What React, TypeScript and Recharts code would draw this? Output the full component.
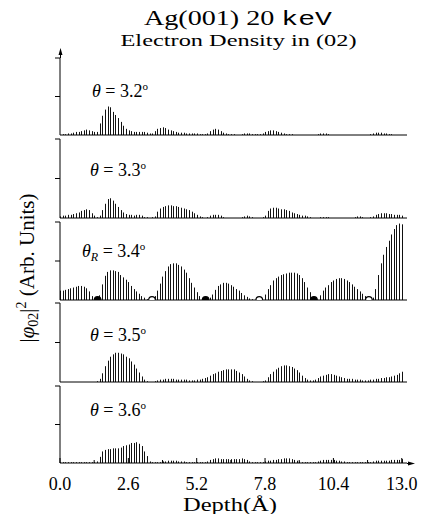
import React from 'react'
import { ComposedChart, Bar, Scatter, XAxis, YAxis } from 'recharts'

// |phi_02|^2 sampled every 0.1 Å from 0.0 to 13.0, in % of the panel height
const rho32 = [
  0, 1, 1, 2, 2, 3, 4, 4, 5, 6,
  7, 6, 5, 4, 4, 15, 25, 33, 37, 36,
  30, 26, 22, 17, 12, 8, 6, 5, 4, 4,
  4, 4, 4, 3, 2, 2, 5, 8, 9, 10,
  9, 7, 6, 5, 4, 3, 3, 3, 2, 2,
  2, 2, 2, 1, 1, 1, 2, 5, 7, 8,
  7, 5, 3, 2, 1, 1, 1, 0, 0, 1,
  2, 2, 2, 1, 1, 1, 1, 2, 4, 5,
  6, 6, 5, 4, 3, 2, 1, 1, 1, 0,
  0, 0, 0, 0, 0, 0, 0, 0, 1, 2,
  2, 2, 1, 0, 0, 0, 0, 0, 0, 0,
  0, 0, 0, 0, 0, 0, 0, 0, 1, 2,
  3, 3, 3, 2, 2, 1, 1, 0, 0, 0,
  0,
]

const rho33 = [
  2, 3, 3, 4, 4, 5, 6, 7, 9, 10,
  11, 10, 6, 3, 1, 3, 10, 18, 24, 25,
  22, 18, 14, 10, 7, 5, 4, 4, 3, 4,
  4, 3, 1, 1, 0, 1, 2, 8, 12, 14,
  15, 16, 16, 15, 15, 14, 13, 12, 11, 10,
  8, 6, 4, 2, 1, 0, 1, 3, 4, 4,
  4, 3, 1, 0, 0, 0, 0, 0, 0, 1,
  2, 3, 2, 1, 0, 0, 0, 1, 3, 9,
  12, 13, 13, 12, 11, 11, 10, 9, 7, 6,
  5, 4, 3, 3, 2, 1, 0, 0, 0, 1,
  1, 1, 1, 0, 0, 0, 0, 0, 0, 0,
  0, 0, 1, 2, 2, 1, 0, 0, 1, 2,
  4, 5, 6, 6, 6, 5, 5, 4, 4, 4,
  3,
]

const rho34 = [
  12, 12, 13, 14, 15, 16, 17, 18, 18, 17,
  15, 11, 5, 1, 0, 6, 20, 31, 36, 38,
  38, 37, 36, 32, 29, 26, 23, 18, 14, 11,
  8, 5, 3, 1, 0, 0, 5, 12, 21, 30,
  37, 43, 46, 47, 47, 45, 43, 39, 35, 28,
  22, 16, 10, 5, 1, 0, 0, 3, 7, 13,
  18, 20, 22, 22, 21, 19, 17, 14, 12, 9,
  6, 4, 2, 1, 0, 0, 0, 2, 7, 14,
  19, 25, 28, 30, 32, 33, 34, 35, 35, 35,
  34, 32, 28, 23, 16, 10, 3, 0, 0, 6,
  12, 16, 19, 23, 25, 27, 28, 28, 27, 25,
  23, 20, 17, 14, 11, 8, 5, 2, 0, 3,
  14, 32, 47, 58, 68, 76, 84, 91, 96, 98,
  97,
]

const rho35 = [
  0, 0, 0, 0, 0, 0, 0, 0, 0, 0,
  0, 0, 0, 0, 1, 4, 11, 20, 27, 32,
  35, 37, 37, 36, 35, 32, 30, 26, 22, 17,
  12, 7, 3, 1, 0, 0, 1, 2, 3, 3,
  4, 4, 4, 4, 3, 3, 3, 3, 3, 2,
  2, 2, 3, 3, 4, 5, 6, 8, 10, 11,
  13, 14, 15, 16, 16, 16, 16, 14, 12, 10,
  7, 4, 2, 1, 0, 0, 0, 1, 2, 6,
  10, 13, 16, 18, 20, 21, 21, 20, 19, 17,
  15, 12, 8, 5, 3, 2, 2, 3, 5, 7,
  8, 9, 10, 10, 9, 8, 7, 6, 5, 4,
  4, 4, 3, 3, 3, 2, 2, 2, 3, 3,
  4, 4, 5, 5, 6, 6, 7, 8, 9, 11,
  13,
]

const rho36 = [
  1, 1, 1, 1, 1, 1, 1, 1, 1, 1,
  1, 1, 1, 1, 2, 8, 15, 17, 18, 18,
  19, 19, 19, 20, 22, 23, 24, 26, 26, 27,
  25, 22, 15, 9, 2, 1, 1, 1, 1, 2,
  2, 3, 3, 3, 3, 2, 2, 2, 1, 1,
  1, 1, 1, 1, 1, 1, 2, 4, 5, 6,
  6, 5, 5, 5, 5, 5, 5, 5, 5, 6,
  5, 4, 2, 1, 1, 1, 1, 1, 2, 3,
  3, 4, 4, 5, 5, 6, 6, 6, 5, 4,
  3, 2, 1, 1, 1, 1, 1, 1, 2, 3,
  4, 4, 4, 4, 4, 3, 3, 2, 2, 1,
  1, 1, 1, 1, 1, 1, 1, 1, 1, 2,
  3, 3, 3, 3, 3, 3, 4, 4, 4, 4,
  5,
]

// atomic planes marked on the resonance panel
const filledSites = [1.43, 5.54, 9.66]
const openSites = [3.5, 7.58, 11.75]

const depthTicks = [0, 1.3, 2.6, 3.9, 5.2, 6.5, 7.8, 9.1, 10.4, 11.7, 13.0]
const majorTicks = [0, 2.6, 5.2, 7.8, 10.4, 13.0]

const SERIF = "'Liberation Serif', 'Times New Roman', serif"

const toRows = (vals: number[]) => vals.map((v, i) => ({ d: i / 10, v }))

const Stick = (p: any) => {
  if (!p.height || p.height <= 0) return null
  const x = Math.round(p.x + p.width / 2) + 0.5
  return <line x1={x} x2={x} y1={p.y} y2={p.y + p.height} stroke="#111" strokeWidth={1} />
}

const Site = ({ cx, cy, open }: any) => (
  <circle cx={cx} cy={cy} r={3.3} fill={open ? '#fff' : '#000'} stroke="#000" strokeWidth={1.2} />
)

const DepthTick = ({ x, y, payload }: any) => {
  const major = majorTicks.some((t) => Math.abs(t - payload.value) < 1e-6)
  return (
    <g>
      <line x1={x} x2={x} y1={y} y2={y - (major ? 5 : 3)} stroke="#000" />
      {major && (
        <text x={x} y={y + 27} textAnchor="middle" fontFamily={SERIF} fontSize={18} fill="#000">
          {payload.value.toFixed(1)}
        </text>
      )}
    </g>
  )
}

function Panel({ values, top, base, bottom, sites }: any) {
  const padTop = 6
  const xh = bottom ? 40 : 2
  const h = base - top + padTop + xh
  return (
    <div style={{ position: 'absolute', left: 0, top: top - padTop }}>
      <ComposedChart
        width={427}
        height={h}
        data={toRows(values)}
        margin={{ top: padTop, right: 20, bottom: 0, left: 0 }}
      >
        <XAxis
          type="number"
          dataKey="d"
          domain={[0, 13.2]}
          height={xh}
          ticks={bottom ? depthTicks : []}
          tick={bottom ? <DepthTick /> : false}
          tickLine={false}
          tickSize={0}
          tickMargin={0}
          axisLine={{ stroke: '#000', strokeWidth: 1 }}
          interval={0}
        />
        <YAxis
          type="number"
          domain={[0, 100]}
          ticks={[50, 100]}
          width={60}
          tickSize={5}
          tickLine={{ stroke: '#000' }}
          axisLine={{ stroke: '#000', strokeWidth: 1 }}
          tickFormatter={() => ''}
          allowDataOverflow
        />
        <Bar dataKey="v" barSize={1} shape={<Stick />} isAnimationActive={false} />
        {sites && (
          <Scatter
            data={filledSites.map((d) => ({ d, v: 0 }))}
            dataKey="v"
            shape={(p: any) => <Site {...p} />}
            isAnimationActive={false}
          />
        )}
        {sites && (
          <Scatter
            data={openSites.map((d) => ({ d, v: 0 }))}
            dataKey="v"
            shape={(p: any) => <Site {...p} open />}
            isAnimationActive={false}
          />
        )}
      </ComposedChart>
    </div>
  )
}

const Theta = ({ x, y, value, sub }: any) => (
  <text x={x} y={y} fontFamily={SERIF} fontSize={18} fill="#000">
    <tspan fontStyle="italic">θ</tspan>
    {sub && (
      <tspan fontStyle="italic" fontSize={12} dy={4}>
        {sub}
      </tspan>
    )}
    <tspan dy={sub ? -4 : 0}>{` = ${value}`}</tspan>
    <tspan fontSize={11} dy={-7}>o</tspan>
  </text>
)

export default function App() {
  return (
    <div
      style={{
        position: 'absolute',
        left: 0,
        top: 0,
        width: 427,
        height: 514,
        background: '#fff',
        overflow: 'hidden',
      }}
    >
      <Panel values={rho32} top={58} base={135} />
      <Panel values={rho33} top={139} base={218} />
      <Panel values={rho34} top={222} base={300} sites />
      <Panel values={rho35} top={303} base={382} />
      <Panel values={rho36} top={386} base={463} bottom />

      <svg
        width={427}
        height={514}
        style={{ position: 'absolute', left: 0, top: 0, pointerEvents: 'none' }}
      >
        <text
          x={238}
          y={25}
          textAnchor="middle"
          fontFamily={SERIF}
          fontSize={20}
          textLength={188}
          lengthAdjust="spacingAndGlyphs"
          fill="#000"
        >
          Ag(001) 20 <tspan fontFamily="'Liberation Mono', monospace">keV</tspan>
        </text>
        <text
          x={238.5}
          y={46}
          textAnchor="middle"
          fontFamily={SERIF}
          fontSize={17}
          textLength={236}
          lengthAdjust="spacingAndGlyphs"
          fill="#000"
        >
          Electron Density in (02)
        </text>

        <g transform="translate(34,268) rotate(-90)">
          <text x={0} y={0} textAnchor="middle" fontFamily={SERIF} fontSize={21} fill="#000">
            |<tspan fontStyle="italic">φ</tspan>
            <tspan fontSize={14} dy={4}>02</tspan>
            <tspan dy={-4}>|</tspan>
            <tspan fontSize={14} dy={-8}>2</tspan>
            <tspan dy={8}> (Arb. Units)</tspan>
          </text>
        </g>

        <Theta x={92} y={97} value="3.2" />
        <Theta x={90} y={176} value="3.3" />
        <Theta x={82} y={257} value="3.4" sub="R" />
        <Theta x={90} y={341} value="3.5" />
        <Theta x={90} y={416} value="3.6" />

        <line x1={60.5} x2={60.5} y1={58} y2={52} stroke="#000" />
        <polygon points="60.5,48 58.5,55 62.5,55" fill="#000" />
        <line x1={407} x2={411} y1={463.5} y2={463.5} stroke="#000" />
        <polygon points="415,463.5 408,461.5 408,465.5" fill="#000" />

        <text
          x={230}
          y={511}
          textAnchor="middle"
          fontFamily={SERIF}
          fontSize={18}
          textLength={94}
          lengthAdjust="spacingAndGlyphs"
          fill="#000"
        >
          Depth(Å)
        </text>
      </svg>
    </div>
  )
}
